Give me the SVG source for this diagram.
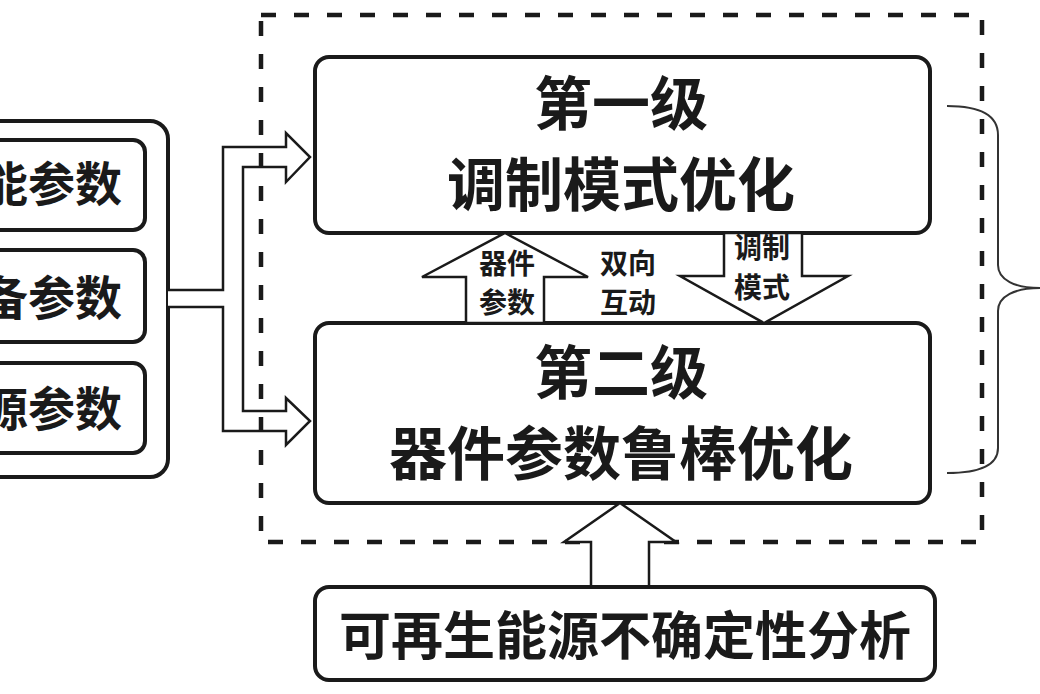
<svg xmlns="http://www.w3.org/2000/svg" width="1040" height="694" viewBox="0 0 1040 694">
<style>
.box{fill:#fff;stroke:#1a1a1a;stroke-width:4}
.arr{fill:#fff;stroke:#1a1a1a;stroke-width:2.5;stroke-linejoin:miter}
.t{font-family:"Noto Sans CJK SC","Noto Sans CJK JP",sans-serif;font-weight:700;fill:#1a1a1a;text-anchor:middle}
.big{font-size:58px}
.mid{font-size:47px}
.sm{font-size:28px}
.dash{fill:none;stroke:#1a1a1a;stroke-width:4.5;stroke-dasharray:15 18}
</style>
<rect width="1040" height="694" fill="#fff"/>
<g id="inputs">
  <rect class="box" x="-20" y="121" width="188" height="356" rx="18"/>
  <g id="input1"><rect class="box" x="-20" y="140" width="165" height="90" rx="12"/><text class="t mid" x="122" y="201" style="text-anchor:end">能参数</text></g>
  <g id="input2"><rect class="box" x="-20" y="250" width="165" height="92" rx="12"/><text class="t mid" x="122" y="315" style="text-anchor:end">备参数</text></g>
  <g id="input3"><rect class="box" x="-20" y="363" width="165" height="90" rx="12"/><text class="t mid" x="122" y="426" style="text-anchor:end">源参数</text></g>
</g>
<g id="connectors">
  <path class="arr" d="M168,290 H223 V147 H286 V133 L310,157 L286,182 V167 H243 V411 H286 V398 L310,421 L286,445 V431 H223 V307 H168"/>
</g>
<g id="frame">
  <rect class="dash" x="261" y="15" width="721" height="527"/>
</g>
<g id="level1">
  <rect class="box" x="315" y="57" width="615" height="176" rx="14"/>
  <text class="t big" x="621" y="125">第一级</text>
  <text class="t big" x="621" y="206">调制模式优化</text>
</g>
<g id="level2">
  <rect class="box" x="315" y="323" width="615" height="180" rx="14"/>
  <text class="t big" x="621" y="394">第二级</text>
  <text class="t big" x="621" y="475">器件参数鲁棒优化</text>
</g>
<g id="interaction">
  <polygon class="arr" points="466,323 466,277 422,277 505,233 588,277 544,277 544,323"/>
  <text class="t sm" x="507" y="274">器件</text>
  <text class="t sm" x="507" y="313">参数</text>
  <polygon class="arr" points="724,233 724,276 680,276 764,323 848,276 802,276 802,233"/>
  <text class="t sm" x="762" y="258">调制</text>
  <text class="t sm" x="762" y="298">模式</text>
  <text class="t sm" x="628" y="274">双向</text>
  <text class="t sm" x="628" y="313">互动</text>
</g>
<g id="uncertainty">
  <polygon class="arr" points="591,587 591,542 564,542 620,503 676,542 649,542 649,587"/>
  <rect class="box" x="315" y="587" width="620" height="93" rx="14"/>
  <text class="t" style="font-size:52px" x="625" y="655">可再生能源不确定性分析</text>
</g>
<g id="brace">
  <path d="M947,106 C975,106 998,112 998,135 V265 C998,280 1015,288 1040,288 C1015,288 998,296 998,311 V448 C998,468 975,473 947,473" fill="none" stroke="#333" stroke-width="2"/>
</g>
</svg>
